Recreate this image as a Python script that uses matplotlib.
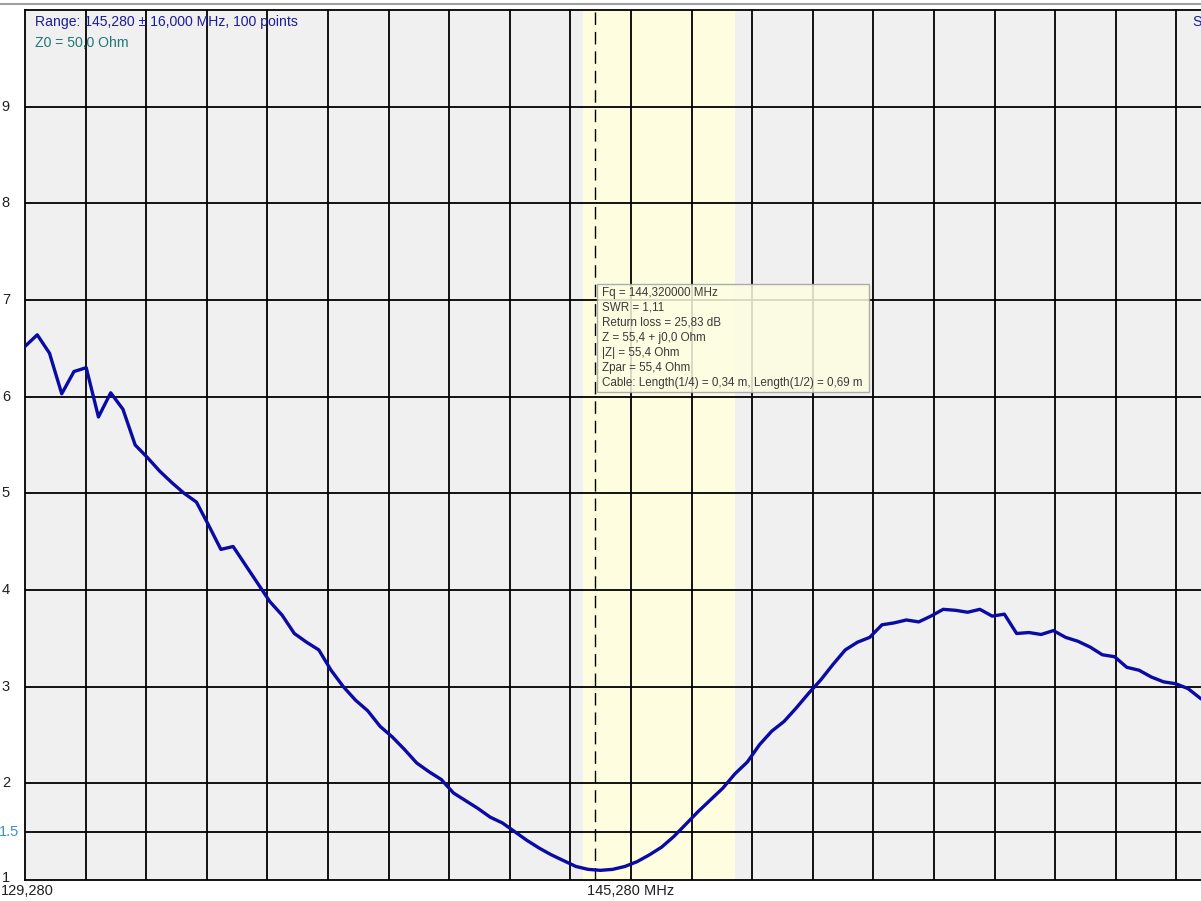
import numpy as np
import matplotlib
matplotlib.use("Agg")
import matplotlib.pyplot as plt
from matplotlib.lines import Line2D
from matplotlib.transforms import blended_transform_factory

plt.rcParams['font.family'] = ['Liberation Sans', 'DejaVu Sans']

# sweep: 145,280 +- 16,000 MHz, 100 points
f_start = 129.28
f_stop = 161.28
n_points = 100
freq = np.linspace(f_start, f_stop, n_points)

swr = [6.52, 6.64, 6.45, 6.03, 6.26, 6.30, 5.79, 6.04, 5.87, 5.50,
       5.37, 5.23, 5.11, 5.00, 4.91, 4.67, 4.42, 4.45, 4.26, 4.07,
       3.88, 3.74, 3.55, 3.46, 3.38, 3.17, 3.00, 2.86, 2.75, 2.59,
       2.48, 2.35, 2.21, 2.12, 2.04, 1.90, 1.82, 1.74, 1.65, 1.59,
       1.50, 1.41, 1.33, 1.26, 1.20, 1.14, 1.11, 1.10, 1.11, 1.14,
       1.19, 1.26, 1.34, 1.45, 1.58, 1.71, 1.83, 1.95, 2.10, 2.22,
       2.40, 2.54, 2.64, 2.78, 2.93, 3.07, 3.23, 3.38, 3.46, 3.51,
       3.64, 3.66, 3.69, 3.67, 3.73, 3.80, 3.79, 3.77, 3.80, 3.73,
       3.75, 3.55, 3.56, 3.54, 3.58, 3.51, 3.47, 3.41, 3.33, 3.31,
       3.20, 3.17, 3.10, 3.05, 3.03, 2.98, 2.88, 2.80, 2.73, 2.66]

band = (144.0, 148.0)       # 2m band highlight
marker_f = 144.32
y_ticks = [1, 1.5, 2, 3, 4, 5, 6, 7, 8, 9]
y_labels = ['1', '1.5', '2', '3', '4', '5', '6', '7', '8', '9']
tooltip = ["Fq = 144,320000 MHz",
           "SWR = 1,11",
           "Return loss = 25,83 dB",
           "Z = 55,4 + j0,0 Ohm",
           "|Z| = 55,4 Ohm",
           "Zpar = 55,4 Ohm",
           "Cable: Length(1/4) = 0,34 m, Length(1/2) = 0,69 m"]

W, H = 1201, 901
fig = plt.figure(figsize=(W / 100, H / 100), dpi=100, facecolor='white')
# plot area runs past the right edge of the window (cropped screenshot)
ax = fig.add_axes([25 / W, 21 / H, 1212 / W, 870 / H])
ax.set_facecolor('#f0f0f0')
ax.set_xlim(f_start, f_stop)
ax.set_ylim(1, 10)

ax.axvspan(band[0], band[1], color='#fefde0', zorder=0)

# grid
for gx in np.linspace(f_start, f_stop, 21)[1:-1]:
    ax.axvline(gx, color='black', lw=1.3, zorder=1)
for gy in y_ticks[1:]:
    ax.axhline(gy, color='black', lw=1.3, zorder=1)

ax.axvline(marker_f, color='black', lw=1.0, ls=(0, (9, 5)), zorder=2)

ax.plot(freq, swr, color='#0a0aa4', lw=2.4, zorder=3)

ax.set_xticks([])
ax.set_yticks([])
for s in ax.spines.values():
    s.set_color('black')
    s.set_linewidth(1.3)

# y labels
tr = blended_transform_factory(fig.transFigure, ax.transData)
for v, lab in zip(y_ticks, y_labels):
    c = '#3a8fd8' if lab == '1.5' else '#202020'
    ax.text(10 / W if lab != '1.5' else 19 / W, v + (0.02 if v == 1 else 0), lab,
            transform=tr, ha='right', va='center', fontsize=10.5, color=c,
            clip_on=False)

# x labels
fig.text(1 / W, 1 - 891 / H, '129,280', ha='left', va='center', fontsize=10.5, color='#202020')
trx = blended_transform_factory(ax.transData, fig.transFigure)
ax.text(145.28, 1 - 891 / H, '145,280 MHz', transform=trx, ha='center', va='center',
        fontsize=10.5, color='#202020', clip_on=False)

fig.text(35 / W, 1 - 22 / H, 'Range: 145,280 \u00b1 16,000 MHz, 100 points',
         ha='left', va='center', fontsize=10.1, color='#1c1c9c')
fig.text(35 / W, 1 - 43 / H, 'Z0 = 50,0 Ohm', ha='left', va='center',
         fontsize=10.1, color='#1f7878')
fig.text(1192 / W, 1 - 22 / H, 'S', ha='left', va='center', fontsize=10.1, color='#1c1c9c')

# tooltip
box = plt.Rectangle((597 / W, 1 - 392 / H), 272 / W, 108 / H, transform=fig.transFigure,
                    facecolor='#fdfde2', edgecolor='#a0a0a0', lw=1.0, alpha=0.85, zorder=5)
fig.add_artist(box)
for k, line in enumerate(tooltip):
    fig.text(602 / W, 1 - (293 + 15 * k) / H, line, ha='left', va='center',
             fontsize=8.4, color='#3a3a3a', zorder=6)

# window strip at the top
fig.add_artist(Line2D([0, 1], [1 - 4 / H, 1 - 4 / H], transform=fig.transFigure,
                      color='#a0a0a0', lw=1.5))

fig.savefig('out.png', dpi=100, facecolor='white')
